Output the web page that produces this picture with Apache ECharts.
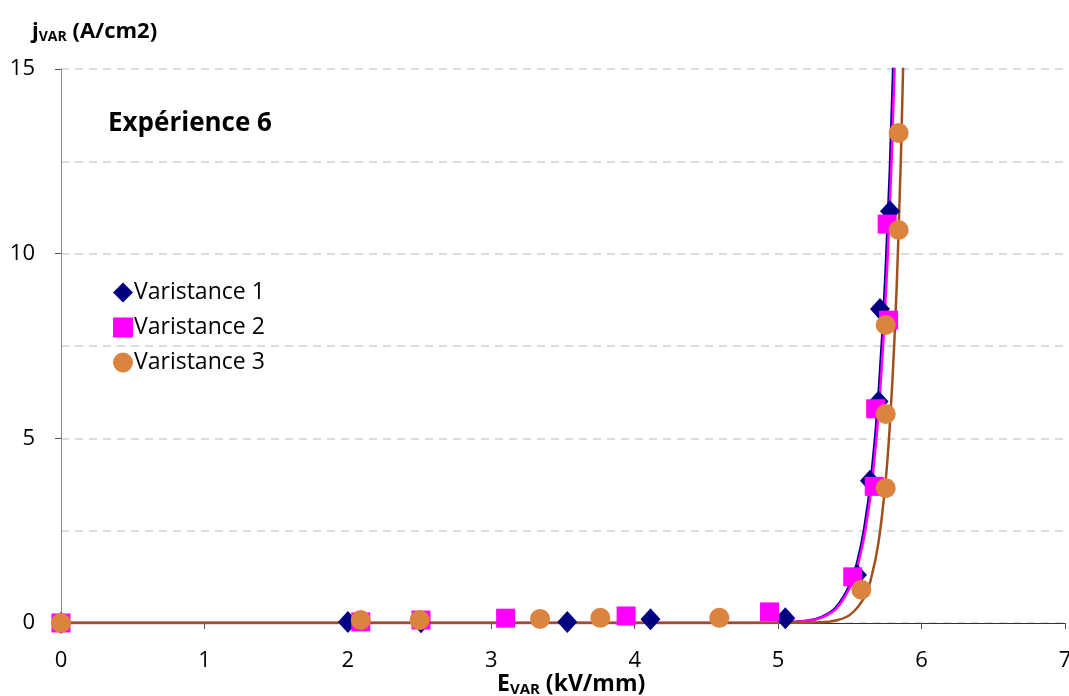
<!DOCTYPE html>
<html>
<head>
<meta charset="utf-8">
<script src="https://cdn.jsdelivr.net/npm/echarts@6/dist/echarts.min.js"></script>
<style>html,body{margin:0;padding:0;background:#fff}#c{width:1069px;height:696px}</style>
</head>
<body>
<div id="c"></div>
<script>
// Measured points [E (kV/mm), j (A/cm2)]
const var1Points = [[0,0],[2.0,0.03],[2.51,0.02],[3.53,0.03],[4.11,0.1],[5.05,0.13],[5.55,1.3],[5.64,3.85],[5.70,6.0],[5.71,8.5],[5.78,11.15]];
const var2Points = [[0,0],[2.09,0.03],[2.51,0.08],[3.10,0.13],[3.94,0.19],[4.94,0.3],[5.52,1.25],[5.67,3.7],[5.68,5.8],[5.77,8.2],[5.76,10.8]];
const var3Points = [[0,0],[2.09,0.08],[2.50,0.08],[3.34,0.11],[3.76,0.14],[4.59,0.14],[5.58,0.9],[5.75,3.65],[5.75,5.66],[5.75,8.07],[5.84,10.64],[5.84,13.27]];
// Trend curves
const trend1 = [[0,0],[4.5,0],[5.0,0.01],[5.2,0.06],[5.3,0.16],[5.4,0.41],[5.5,1.04],[5.55,1.63],[5.6,2.56],[5.65,3.99],[5.7,6.2],[5.75,9.6],[5.8,14.8],[5.85,22.7]];
const trend2 = [[0,0],[4.5,0],[5.01,0.01],[5.21,0.06],[5.31,0.16],[5.41,0.41],[5.51,1.04],[5.56,1.63],[5.61,2.56],[5.66,3.99],[5.71,6.2],[5.76,9.6],[5.81,14.8],[5.86,22.7]];
const trend3 = [[0,0],[4.5,0],[5.0,0],[5.3,0.02],[5.4,0.07],[5.5,0.22],[5.6,0.69],[5.65,1.24],[5.7,2.19],[5.75,3.87],[5.78,5.43],[5.81,7.6],[5.84,10.6],[5.87,14.8],[5.9,20.6]];
const seriesNames = ['Varistance 1','Varistance 2','Varistance 3'];
const xTicks = [0,1,2,3,4,5,6,7];
const yTicks = [0,5,10,15];

const FONT = 'Open Sans';
const chart = echarts.init(document.getElementById('c'), null, {renderer:'canvas'});
const lineCommon = {type:'line', showSymbol:false, symbol:'none', smooth:0.4, silent:true, clip:true};
chart.setOption({
  animation:false,
  backgroundColor:'#fff',
  textStyle:{fontFamily:FONT},
  title:[
    {text:'{b|j}{s|VAR}{b| (A/cm2)}', left:27, top:14,
     textStyle:{rich:{b:{fontFamily:FONT,fontWeight:'bold',fontSize:22,color:'#000'},
                      s:{fontFamily:FONT,fontWeight:'bold',fontSize:14,color:'#000',padding:[11,0,0,0]}}}},
    {text:'Expérience 6', left:103, top:106, textStyle:{fontFamily:FONT,fontWeight:'bold',fontSize:26,color:'#000'}},
    {text:'{b|E}{s|VAR}{b| (kV/mm)}', left:492, top:666,
     textStyle:{rich:{b:{fontFamily:FONT,fontWeight:'bold',fontSize:23,color:'#000'},
                      s:{fontFamily:FONT,fontWeight:'bold',fontSize:15,color:'#000',padding:[11,0,0,0]}}}}
  ],
  legend:{
    left:108, top:276, orient:'vertical', itemGap:12, itemWidth:20, itemHeight:20,
    textStyle:{fontFamily:FONT,fontSize:23,color:'#000',padding:[0,0,0,-4]},
    data:[{name:seriesNames[0],icon:'diamond'},{name:seriesNames[1],icon:'rect'},{name:seriesNames[2],icon:'circle'}]
  },
  grid:{left:61, right:4, top:69, bottom:73, containLabel:false, outerBoundsMode:'none'},
  xAxis:{type:'value', min:0, max:7, interval:1,
    axisLine:{onZero:false,lineStyle:{color:'#333',width:1}},
    axisTick:{show:true,inside:false,length:6,lineStyle:{color:'#555'}},
    axisLabel:{fontFamily:FONT,fontSize:22,color:'#000',margin:27,hideOverlap:false,formatter:v=>xTicks.includes(v)?String(v):''},
    splitLine:{show:false}},
  yAxis:{type:'value', min:0, max:15, interval:5,
    axisLine:{show:true,lineStyle:{color:'#888',width:1}},
    axisTick:{show:true,length:6,lineStyle:{color:'#555'}},
    axisLabel:{fontFamily:FONT,fontSize:22,color:'#000',margin:26,formatter:v=>yTicks.includes(v)?String(v):''},
    splitLine:{show:true,lineStyle:{color:'#d0d0d0',type:[8,6],width:1.5}},
    minorTick:{show:false,splitNumber:2},
    minorSplitLine:{show:true,lineStyle:{color:'#d0d0d0',type:[8,6],width:1.5}}},
  series:[
    Object.assign({name:'trend1', data:trend1, lineStyle:{color:'#000080',width:2.5}, z:2}, lineCommon),
    Object.assign({name:'trend2', data:trend2, lineStyle:{color:'#FF00FF',width:2.5}, z:2}, lineCommon),
    Object.assign({name:'trend3', data:trend3, lineStyle:{color:'#A0501E',width:2.5}, z:2}, lineCommon),
    {name:seriesNames[0], type:'scatter', data:var1Points, symbol:'diamond', symbolSize:[20,22], itemStyle:{color:'#000080',opacity:1}, z:3},
    {name:seriesNames[1], type:'scatter', data:var2Points, symbol:'rect', symbolSize:19, itemStyle:{color:'#FF00FF',opacity:1}, z:4},
    {name:seriesNames[2], type:'scatter', data:var3Points, symbol:'circle', symbolSize:20, itemStyle:{color:'#DA843F',opacity:1}, z:5}
  ]
});
</script>
</body>
</html>
